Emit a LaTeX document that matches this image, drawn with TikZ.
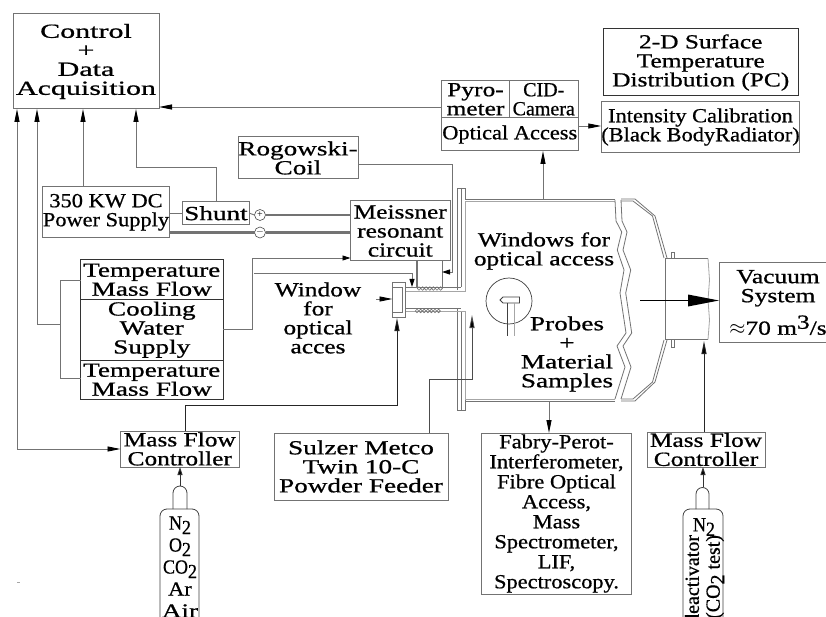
\documentclass[tikz,border=0pt]{standalone}
\usepackage{fontspec}
\usepackage{graphicx}
\usetikzlibrary{arrows.meta}
\setmainfont{Liberation Serif}
\newfontfamily\fa[FakeStretch=1.5,FakeBold=0.8]{Liberation Serif}
\newfontfamily\fb[FakeStretch=1.36,FakeBold=0.8]{Liberation Serif}
\newfontfamily\fc[FakeStretch=1.27,FakeBold=0.8]{Liberation Serif}
\newfontfamily\fd[FakeStretch=1.12,FakeBold=0.7]{Liberation Serif}
\newfontfamily\fe[FakeStretch=1.0,FakeBold=0.6]{Liberation Serif}
\newfontfamily\ff[FakeStretch=0.9,FakeBold=0.5]{Liberation Serif}
\newcommand{\Ta}{\fontsize{20}{19}\fa}
\newcommand{\Tb}{\fontsize{20}{19}\fb}
\newcommand{\Tc}{\fontsize{20}{19}\fc}
\newcommand{\Td}{\fontsize{20}{19}\fd}
\newcommand{\Te}{\fontsize{20}{19}\fe}
\newcommand{\sbb}[1]{\raisebox{-4.5pt}{#1}}
\definecolor{ln}{gray}{0.45}
\tikzset{
  x=1pt,y=-1pt,
  every node/.style={inner sep=0pt,outer sep=0pt,align=center,text=black},
  ln/.style={draw=ln,line width=0.9pt},
  dk/.style={draw=black!85,line width=0.9pt},
  thick grey/.style={draw=ln,line width=2.4pt},
  arr/.style={ln,-{Triangle[length=13pt,width=5pt,fill=black,color=black]}},
  sarr/.style={ln,-{Triangle[length=8pt,width=5pt,fill=black,color=black]}},
  wall/.style={draw=ln,line width=0.8pt},
  gbox/.style={draw=ln,line width=1pt},
  kbox/.style={draw=black!80,line width=1pt},
}
% \bx{name}{x1}{y1}{x2}{y2}{style}{text}
\newcommand{\bx}[7]{\node[#6,minimum width={(#4-#2)*1pt},minimum height={(#5-#3)*1pt}] (#1) at ({(#2+#4)/2},{(#3+#5)/2}) {#7};}
\begin{document}
\begin{tikzpicture}
\clip (0,0) rectangle (826,617);
\fill[white] (0,0) rectangle (826,617);
% boxes
\bx{ctrl}{13}{14}{159}{109}{gbox,font=\Ta}{Control\\+\\Data\\Acquisition}
\bx{twod}{603.5}{29}{798}{96}{kbox,font=\Tc}{2-D Surface\\Temperature\\Distribution (PC)}
\bx{intens}{603}{101.5}{798}{152.5}{gbox,font=\Td}{Intensity Calibration\\(Black BodyRadiator)}
\bx{pyro}{441.5}{80.5}{509.5}{118}{gbox,font=\Tc}{Pyro-\\meter}
\bx{cid}{509.5}{80.5}{578}{118}{gbox,font=\Te}{CID-\\Camera}
\bx{opt}{441.5}{118}{578}{151}{gbox,font=\Td}{Optical Access}
\bx{rogo}{238}{137}{358}{179}{gbox,font=\Tb}{Rogowski-\\Coil}
\bx{sup}{43.5}{186.5}{168.5}{238}{gbox,font=\Td}{350 KW DC\\Power Supply}
\bx{shunt}{182.5}{202}{249.5}{224.5}{gbox,font=\Tb}{Shunt}
\bx{meis}{350.5}{201}{450}{261}{gbox,font=\Tc}{Meissner\\resonant\\circuit}
\bx{tf1}{80.5}{260}{223}{299.5}{kbox,font=\Tb}{Temperature\\Mass Flow}
\bx{cool}{80.5}{299.5}{223}{360}{kbox,font=\Tb}{Cooling\\Water\\Supply}
\bx{tf2}{80.5}{360}{223}{399.5}{kbox,font=\Tb}{Temperature\\Mass Flow}
\bx{mfc1}{120.5}{431}{239}{467}{gbox,font=\Tc}{Mass Flow\\Controller}
\bx{sulzer}{274}{433}{448}{500}{gbox,font=\Tb}{Sulzer Metco\\Twin 10-C\\Powder Feeder}
\bx{fabry}{481.5}{433}{631.5}{594}{gbox,font=\fontsize{20}{20}\fd}{Fabry-Perot-\\Interferometer,\\Fibre Optical\\Access,\\Mass\\Spectrometer,\\LIF,\\Spectroscopy.}
\bx{mfc2}{647}{432}{765}{467}{gbox,font=\Tc}{Mass Flow\\Controller}
\bx{vac}{719}{263}{837}{342}{gbox,font=\Tc}{Vacuum\\System\\[8pt]$\approx$70 m\raisebox{6pt}{3}/s}
% free labels
\node[font=\Tc] (wlab) at (318,318) {Window\\for\\optical\\acces};
\node[font=\Tc] (wopt) at (544,251) {Windows for\\optical access};
\node[font=\Tb] (prob) at (567,354) {Probes\\+\\Material\\Samples};
% chamber: flange and tube
\draw[wall] (457,290) -- (457,188) -- (465,188) -- (465,199);
\draw[wall] (461,188) -- (461,287);
\draw[wall] (457,308) -- (457,410) -- (465,410) -- (465,311);
\draw[wall] (461,311) -- (461,410);
\draw[wall] (404,287) -- (461,287);
\draw[wall,draw=gray!70] (405,291) -- (465,291) -- (465,201) -- (615,201);
\draw[wall] (465,199) -- (615,199);
\draw[wall] (404,308) -- (461,308);
\draw[wall,draw=gray!70] (405,311) -- (465,311) -- (465,399) -- (615,399);
\draw[wall] (465,401.5) -- (615,401.5);
% break
\draw[wall] (615,200) -- (616,221) -- (621.7,232) -- (617.3,250) -- (624,270) -- (620,293) -- (626,333) -- (617,346) -- (625,367) -- (615,399);
\draw[wall] (621,200) -- (622,221) -- (627,232) -- (623,250) -- (630.7,270) -- (625.7,293) -- (631.7,333) -- (623,346) -- (631,367) -- (621,399);
% right section
\draw[wall] (621,199) -- (635,199) -- (655,216) -- (667,258);
\draw[wall] (621,201) -- (633,201) -- (652.5,216) -- (664,258);
\draw[wall] (621,401) -- (635,401) -- (655,382) -- (667,340);
\draw[wall] (621,399) -- (633,399) -- (652.5,382) -- (664,340);
\draw[wall] (665.7,258) -- (665.7,340);
\draw[wall] (665.7,258.5) -- (708,258.5);
\draw[wall] (665.7,339.5) -- (708,339.5);
\draw[wall,draw=gray!70] (708,258.5) -- (709.5,280) -- (708,300) -- (709.5,320) -- (708,339.5);
\draw[wall] (671,258) -- (671,252) -- (674.5,252) -- (674.5,258);
\draw[wall] (671,340) -- (671,347) -- (674.5,347) -- (674.5,340);
% window unit
\draw[wall,fill=white] (392.5,282) rectangle (405.5,317);
\draw[wall] (392.5,287) -- (402.5,287) -- (402.5,312) -- (392.5,312);
% coils
\foreach \i in {0,...,6} {
  \draw[ln,line width=0.6pt] ({419+\i*3.6},288.5) circle (1.8);
  \draw[ln,line width=0.6pt] ({417+\i*3.6},311) circle (1.8);
}
% probe
\draw[draw=black!75,line width=0.7pt] (509,301) circle (23);
\draw[draw=black!75,line width=0.8pt] (500,300) -- (503,297) -- (519.5,297) -- (519.5,303) -- (503,303) -- cycle;
\draw[draw=black!75,line width=0.8pt] (507.5,303) -- (507.5,336);
\draw[draw=gray!70,line width=0.8pt] (514,303) -- (514,336);
% power lines
\node[draw=black!70,circle,minimum size=11pt,line width=0.6pt,font=\fontsize{10}{10}\selectfont] (plus) at (260,215) {+};
\node[draw=black!70,circle,minimum size=11pt,line width=0.6pt,font=\fontsize{10}{10}\selectfont] (minus) at (260,232.5) {$-$};
\draw[thick grey,line width=1.2pt] (sup.east |- shunt.west) -- (shunt.west);
\draw[ln] (shunt.east) -- (plus.west);
\draw[thick grey] (plus.east) -- (meis.west |- plus.east);
\draw[thick grey] (sup.east |- minus.west) -- (minus.west);
\draw[thick grey] (minus.east) -- (meis.west |- minus.east);
\draw[thick grey] (417,261) -- (417,288);
\draw[ln] (442,261) -- (442,288);
% connectors
\draw[arr] (pyro.west |- 0,107) -- (ctrl.east |- 0,107);
\draw[arr] (opt.east |- 0,126) -- (intens.west |- 0,126);
\draw[arr] (543,199) -- (543,0 |- opt.south);
\draw[arr] (83,0 |- sup.north) -- (83,0 |- ctrl.south);
\draw[arr] (shunt.north) -- (shunt.north |- 0,167) -- (136,167) -- (136,0 |- ctrl.south);
\coordinate (br) at (60.5,324);
\draw[ln] (tf1.west |- 0,280) -- (60.5,280) -- (60.5,378) -- (tf2.west |- 0,378);
\draw[arr] (br) -- (37,324) -- (37,0 |- ctrl.south);
\draw[arr,{Triangle[length=13pt,width=5pt,fill=black,color=black]}-{Triangle[length=13pt,width=5pt,fill=black,color=black]}] (mfc1.west) -- (17,0 |- mfc1.west) -- (17,0 |- ctrl.south);
\draw[sarr] (cool.east |- 0,329) -- (252,329) -- (252,258) -- (meis.west |- 0,258);
\draw[sarr] (254,273) -- (412,273) -- (412,287);
\draw[sarr] (rogo.east |- 0,164) -- (452.5,164) -- (452.5,272) -- (442,272);
\draw[arr] (376,299) -- (392.5,299);
\draw[draw=black!85,line width=0.9pt,-{Triangle[length=13pt,width=5pt,fill=black]}] (185,0 |- mfc1.north) -- (185,405.5) -- (397,405.5) -- (397,318);
\draw[draw=black!70,line width=0.8pt,-{Triangle[length=13pt,width=5pt,fill=black]}] (429,0 |- sulzer.north) -- (429,379) -- (472,379) -- (472,315);
\draw[arr] (549,401.5) -- (549,0 |- fabry.north);
\draw[draw=black!85,line width=0.9pt,-{Triangle[length=13pt,width=5pt,fill=black]}] (704,0 |- mfc2.north) -- (704,341);
\draw[black,line width=1.4pt] (640,300.5) -- (690,300.5);
\path[fill=black] (688,294.5) -- (719,300.5) -- (688,306.5) -- cycle;
% cylinders
\coordinate (cy1) at (180,486);
\draw[draw=black!75,line width=0.8pt] (173,509) -- (173,493) arc[start angle=180,end angle=360,radius=7] -- (187,509);
\draw[draw=black!75,line width=0.8pt] (160,617) -- (160,516) arc[start angle=180,end angle=270,radius=7] -- (192,509) arc[start angle=270,end angle=360,radius=7] -- (199,617);
\draw[draw=black!80,line width=0.9pt,-{Triangle[length=8pt,width=5pt,fill=black]}] (cy1) -- (cy1 |- mfc1.south);
\coordinate (cy2) at (703,487);
\draw[draw=black!75,line width=0.8pt] (696,509) -- (696,494) arc[start angle=180,end angle=360,radius=6.5] -- (709,509);
\draw[draw=black!75,line width=0.8pt] (683,617) -- (683,516) arc[start angle=180,end angle=270,radius=7] -- (716,509) arc[start angle=270,end angle=360,radius=7] -- (723,617);
\draw[draw=black!80,line width=0.9pt,-{Triangle[length=8pt,width=5pt,fill=black]}] (cy2) -- (cy2 |- mfc2.south);
\node[font=\fontsize{20}{22}\ff] (gas) at (180,567) {N\sbb{2}\\O\sbb{2}\\CO\sbb{2}\\{\fd Ar}\\{\fb Air}};
\node[font=\fontsize{20}{22}\ff] (n2b) at (704,527) {N\sbb{2}};
\node[font=\fontsize{20}{20}\fe,rotate=90,anchor=east] (dea) at (692,535) {deactivator};
\node[font=\fontsize{20}{20}\fe,rotate=90,anchor=east] (co2) at (715,535) {(CO\sbb{2} test)};
\draw[draw=gray!70,line width=0.6pt] (17,582) -- (20,582);
\end{tikzpicture}
\end{document}
